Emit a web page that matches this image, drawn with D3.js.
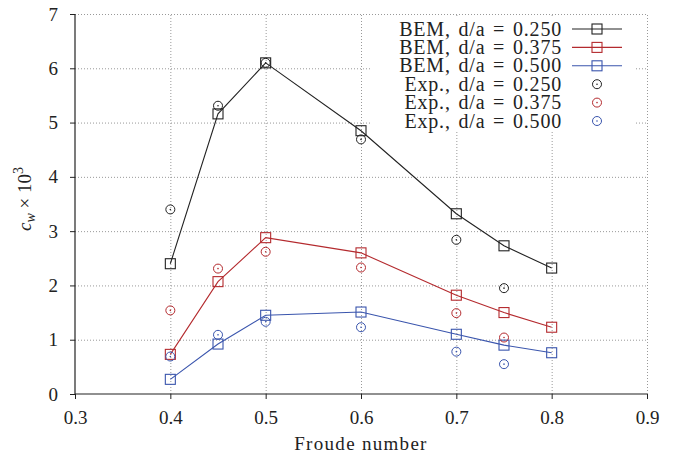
<!DOCTYPE html>
<html>
<head>
<meta charset="utf-8">
<script src="https://cdn.jsdelivr.net/npm/d3@7"></script>
<style>
  body { margin: 0; background: #fff; }
  svg text { font-family: "Liberation Serif", "Times New Roman", serif !important; fill: #222; }
</style>
</head>
<body>
<svg id="chart" width="674" height="456"></svg>
<script>
// Froude numbers where BEM and experiments were evaluated
const froudeBem = [0.40, 0.45, 0.50, 0.60, 0.70, 0.75, 0.80];
const froudeExp = [0.40, 0.45, 0.50, 0.60, 0.70, 0.75];

// c_w x 10^3
const bem250 = [2.40, 5.16, 6.10, 4.85, 3.32, 2.73, 2.32];
const bem375 = [0.73, 2.07, 2.88, 2.60, 1.82, 1.50, 1.23];
const bem500 = [0.27, 0.92, 1.45, 1.51, 1.10, 0.90, 0.76];
const exp250 = [3.40, 5.31, 6.10, 4.69, 2.84, 1.95];
const exp375 = [1.54, 2.31, 2.62, 2.33, 1.49, 1.04];
const exp500 = [0.69, 1.09, 1.33, 1.23, 0.78, 0.55];

const xTicks = [0.3, 0.4, 0.5, 0.6, 0.7, 0.8, 0.9];
const yTicks = [0, 1, 2, 3, 4, 5, 6, 7];

const colors = { k: "#222222", r: "#b42a2e", b: "#3a55ad" };

const series = [
    { label: "BEM, d/a = 0.250", type: "bem", color: colors.k, xs: froudeBem, ys: bem250 },
    { label: "BEM, d/a = 0.375", type: "bem", color: colors.r, xs: froudeBem, ys: bem375 },
    { label: "BEM, d/a = 0.500", type: "bem", color: colors.b, xs: froudeBem, ys: bem500 },
    { label: "Exp., d/a = 0.250", type: "exp", color: colors.k, xs: froudeExp, ys: exp250 },
    { label: "Exp., d/a = 0.375", type: "exp", color: colors.r, xs: froudeExp, ys: exp375 },
    { label: "Exp., d/a = 0.500", type: "exp", color: colors.b, xs: froudeExp, ys: exp500 }
];

const svg = d3.select("#chart");
const margin = { left: 75, right: 27, top: 14, bottom: 62 };
const W = 674, H = 456;

const x = d3.scaleLinear().domain([0.3, 0.9]).range([margin.left, W - margin.right]);
const y = d3.scaleLinear().domain([0, 7]).range([H - margin.bottom, margin.top]);

// grid (dotted, also closes the top and right of the frame)
const grid = svg.append("g").attr("stroke", "#999").attr("stroke-dasharray", "1,2").attr("stroke-width", 1);
grid.selectAll(".gx").data(xTicks.slice(1)).enter().append("line")
    .attr("x1", d => x(d) + 0.5).attr("x2", d => x(d) + 0.5)
    .attr("y1", y(0)).attr("y2", y(7));
grid.selectAll(".gy").data(yTicks.slice(1)).enter().append("line")
    .attr("x1", x(0.3)).attr("x2", x(0.9))
    .attr("y1", d => y(d) + 0.5).attr("y2", d => y(d) + 0.5);

// axes
const xAxis = svg.append("g").attr("transform", `translate(0,${y(0)})`)
    .call(d3.axisBottom(x).tickValues(xTicks).tickFormat(d3.format(".1f")).tickSize(5).tickPadding(12));
const yAxis = svg.append("g").attr("transform", `translate(${x(0.3)},0)`)
    .call(d3.axisLeft(y).tickValues(yTicks).tickFormat(d3.format("d")).tickSize(5).tickPadding(12));
[xAxis, yAxis].forEach(a => {
    a.attr("font-family", null);
    a.select(".domain").attr("stroke", "#222").attr("stroke-width", 1.2);
    a.selectAll(".tick line").attr("stroke", "#222");
    a.selectAll(".tick text").attr("font-size", 19).attr("fill", "#222");
});
xAxis.select(".domain").attr("d", `M${x(0.3)},0H${x(0.9)}`);
yAxis.select(".domain").attr("d", `M0,${y(0)}V${y(7)}`);

// markers
function square(g, cx, cy, color) {
    g.append("rect").attr("x", cx - 5).attr("y", cy - 5).attr("width", 10).attr("height", 10)
        .attr("fill", "none").attr("stroke", color).attr("stroke-width", 1.1);
}
function circleDot(g, cx, cy, color) {
    g.append("circle").attr("cx", cx).attr("cy", cy).attr("r", 4.5)
        .attr("fill", "none").attr("stroke", color).attr("stroke-width", 1);
    g.append("circle").attr("cx", cx).attr("cy", cy).attr("r", 0.8).attr("fill", color);
}

const line = d3.line().x(d => x(d[0])).y(d => y(d[1]));
const marks = svg.append("g");
series.forEach(s => {
    const pts = s.xs.map((v, i) => [v, s.ys[i]]);
    if (s.type === "bem") {
        marks.append("path").datum(pts).attr("d", line)
            .attr("fill", "none").attr("stroke", s.color).attr("stroke-width", 1.1);
        pts.forEach(p => square(marks, x(p[0]), y(p[1]), s.color));
    } else {
        pts.forEach(p => circleDot(marks, x(p[0]), y(p[1]), s.color));
    }
});

// legend
const leg = svg.append("g");
leg.append("rect").attr("x", 372).attr("y", 16).attr("width", 262).attr("height", 116).attr("fill", "#fff");
series.forEach((s, i) => {
    const ly = 29 + i * 18.4;
    leg.append("text").attr("x", 562).attr("y", ly).attr("dy", "0.33em")
        .attr("text-anchor", "end").attr("font-size", 20)
        .attr("letter-spacing", 0.8).attr("word-spacing", 2).text(s.label);
    if (s.type === "bem") {
        leg.append("line").attr("x1", 572).attr("x2", 622).attr("y1", ly).attr("y2", ly)
            .attr("stroke", s.color).attr("stroke-width", 1.1);
        square(leg, 597, ly, s.color);
    } else {
        circleDot(leg, 597, ly, s.color);
    }
});

// axis titles
svg.append("text").attr("x", x(0.6)).attr("y", 450).attr("text-anchor", "middle")
    .attr("font-size", 19).attr("letter-spacing", 1.3).text("Froude number");

const yt = svg.append("text").attr("transform", `translate(31,199) rotate(-90)`)
    .attr("text-anchor", "middle").attr("font-size", 19);
yt.append("tspan").attr("font-style", "italic").text("c");
yt.append("tspan").attr("font-style", "italic").attr("font-size", 14).attr("dy", 4).text("w");
yt.append("tspan").attr("dy", -4).text(" \u00d7 10");
yt.append("tspan").attr("font-size", 14).attr("dy", -8).text("3");
</script>
</body>
</html>
